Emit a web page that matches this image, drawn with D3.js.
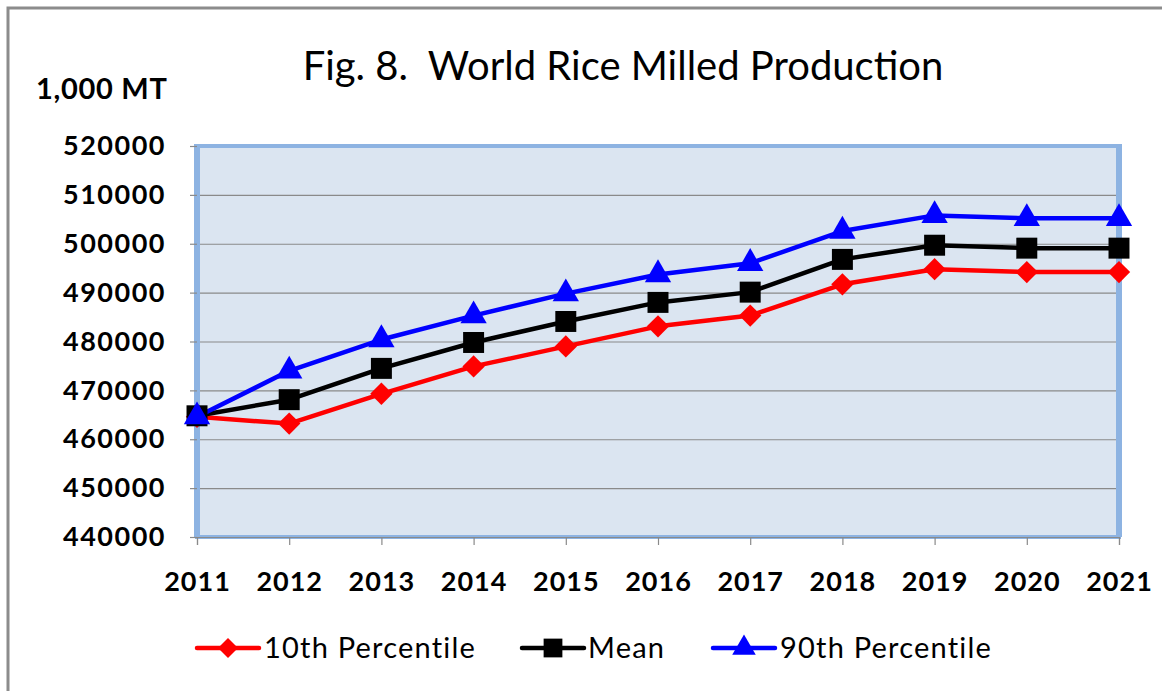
<!DOCTYPE html>
<html>
<head>
<meta charset="utf-8">
<script src="https://cdn.jsdelivr.net/npm/d3@7"></script>
<style>
  html, body { margin: 0; padding: 0; background: #fff; }
  svg { display: block; }
</style>
</head>
<body>
<svg id="chart" width="1162" height="691"></svg>
<script>
// ---- data (1,000 MT) ----
const years = [2011, 2012, 2013, 2014, 2015, 2016, 2017, 2018, 2019, 2020, 2021];
const p10   = [464600, 463200, 469300, 474900, 479000, 483100, 485300, 491700, 494800, 494200, 494200];
const mean  = [464800, 468100, 474500, 479800, 484100, 488000, 490100, 496800, 499700, 499100, 499100];
const p90   = [464600, 474000, 480400, 485300, 489800, 493700, 496000, 502600, 505800, 505200, 505200];
const yTicks = [440000, 450000, 460000, 470000, 480000, 490000, 500000, 510000, 520000];

// diamond = square turned 45 degrees
const series = [
  { name: '10th Percentile', values: p10,  color: '#ff0000', symbol: d3.symbolSquare,   size: 250, rot: 45 },
  { name: 'Mean',            values: mean, color: '#000000', symbol: d3.symbolSquare,   size: 440, rot: 0 },
  { name: '90th Percentile', values: p90,  color: '#0000ff', symbol: d3.symbolTriangle, size: 300, rot: 0 }
];

const WIDTH = 1162, HEIGHT = 691;
const FONT = 'Lato, "Open Sans", sans-serif';
const plot = { left: 197, right: 1119, top: 146, bottom: 537 };

const svg = d3.select('#chart');

// outer frame (only left/top edges fall inside the picture)
svg.append('rect')
  .attr('x', 8).attr('y', 8)
  .attr('width', WIDTH + 20).attr('height', HEIGHT + 20)
  .attr('fill', '#fff')
  .attr('stroke', '#8c8c8c')
  .attr('stroke-width', 3);

// ---- scales ----
const x = d3.scalePoint().domain(years).range([plot.left, plot.right]);
const y = d3.scaleLinear().domain([440000, 520000]).range([plot.bottom, plot.top]);

// ---- plot area ----
svg.append('rect')
  .attr('x', plot.left).attr('y', plot.top)
  .attr('width', plot.right - plot.left).attr('height', plot.bottom - plot.top)
  .attr('fill', '#dbe5f1');

// gridlines
svg.append('g')
  .attr('transform', `translate(${plot.left},0)`)
  .call(d3.axisLeft(y).tickValues(yTicks.slice(1, -1)).tickSize(-(plot.right - plot.left)).tickFormat(() => ''))
  .call(g => g.select('.domain').remove())
  .selectAll('line').attr('stroke', '#8a8a8a').attr('stroke-width', 1.2);

// plot border: thicker on the sides
svg.append('rect')
  .attr('x', plot.left).attr('y', plot.top)
  .attr('width', plot.right - plot.left).attr('height', plot.bottom - plot.top)
  .attr('fill', 'none')
  .attr('stroke', '#8db3e2')
  .attr('stroke-width', 4);
[plot.left, plot.right].forEach(px => {
  svg.append('line')
    .attr('x1', px).attr('x2', px)
    .attr('y1', plot.top - 2).attr('y2', plot.bottom)
    .attr('stroke', '#8db3e2')
    .attr('stroke-width', 6);
});

// ---- y axis ----
svg.append('g')
  .attr('transform', `translate(${plot.left},0)`)
  .call(d3.axisLeft(y).tickValues(yTicks).tickSize(7).tickPadding(24).tickFormat(d3.format('d')))
  .call(g => g.select('.domain').remove())
  .call(g => g.selectAll('line').attr('stroke', '#8a8a8a').attr('stroke-width', 1.2))
  .call(g => g.selectAll('text')
    .attr('font-family', FONT)
    .attr('font-weight', 'bold')
    .attr('font-size', '27px')
    .attr('letter-spacing', '1.5px')
    .attr('fill', '#000'));

// ---- x axis ----
svg.append('g')
  .attr('transform', `translate(0,${plot.bottom})`)
  .call(d3.axisBottom(x).tickSize(8).tickPadding(27))
  .call(g => g.select('.domain').attr('stroke', '#8a8a8a').attr('stroke-width', 1.2))
  .call(g => g.selectAll('line').attr('stroke', '#8a8a8a').attr('stroke-width', 1.2))
  .call(g => g.selectAll('text')
    .attr('font-family', FONT)
    .attr('font-weight', 'bold')
    .attr('font-size', '27px')
    .attr('letter-spacing', '1px')
    .attr('fill', '#000'));

// ---- lines + markers ----
const line = d3.line().x((d, i) => x(years[i])).y(d => y(d));

series.forEach(s => {
  svg.append('path')
    .datum(s.values)
    .attr('fill', 'none')
    .attr('stroke', s.color)
    .attr('stroke-width', 4.5)
    .attr('stroke-linejoin', 'round')
    .attr('d', line);
});
series.forEach(s => {
  svg.append('g').selectAll('path')
    .data(s.values)
    .join('path')
    .attr('transform', (d, i) => `translate(${x(years[i])},${y(d)}) rotate(${s.rot})`)
    .attr('d', d3.symbol().type(s.symbol).size(s.size))
    .attr('fill', s.color);
});

// ---- titles ----
svg.append('text')
  .attr('x', 623).attr('y', 80)
  .attr('text-anchor', 'middle')
  .attr('xml:space', 'preserve')
  .style('white-space', 'pre')
  .attr('font-family', FONT)
  .attr('font-size', '40px')
  .attr('fill', '#000')
  .text('Fig. 8.  World Rice Milled Production');

svg.append('text')
  .attr('x', 36).attr('y', 99)
  .attr('font-family', FONT)
  .attr('font-weight', 'bold')
  .attr('font-size', '29px')
  .attr('letter-spacing', '0.7px')
  .attr('fill', '#000')
  .text('1,000 MT');

// ---- legend ----
const legendItems = [
  { x: 197, lineW: 62, textX: 264 },
  { x: 522, lineW: 62, textX: 588 },
  { x: 713, lineW: 62, textX: 780 }
];
const legendY = 648;
series.forEach((s, i) => {
  const L = legendItems[i];
  const g = svg.append('g');
  g.append('line')
    .attr('x1', L.x).attr('x2', L.x + L.lineW)
    .attr('y1', legendY).attr('y2', legendY)
    .attr('stroke', s.color).attr('stroke-width', 4.5).attr('stroke-linecap', 'round');
  g.append('path')
    .attr('transform', `translate(${L.x + L.lineW / 2},${legendY}) rotate(${s.rot})`)
    .attr('d', d3.symbol().type(s.symbol).size(s.size * 0.8))
    .attr('fill', s.color);
  g.append('text')
    .attr('x', L.textX).attr('y', legendY + 10)
    .attr('font-family', FONT)
    .attr('font-size', '29px')
    .attr('letter-spacing', '1.2px')
    .attr('fill', '#000')
    .text(s.name);
});
</script>
</body>
</html>
